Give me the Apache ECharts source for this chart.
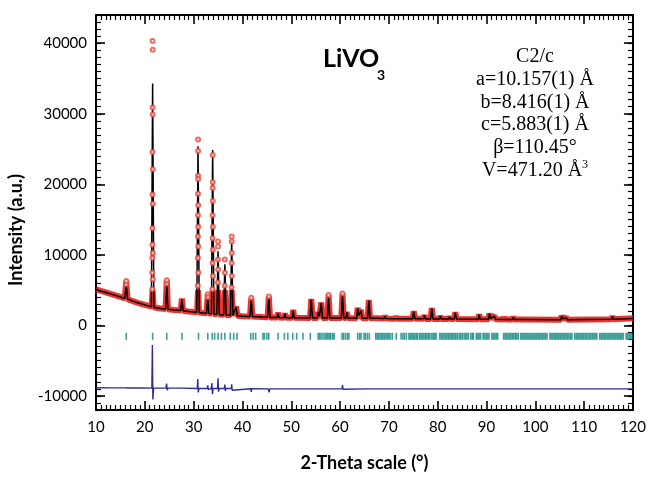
<!DOCTYPE html>
<html>
<head>
<meta charset="utf-8">
<script src="https://cdn.jsdelivr.net/npm/echarts@6.0.0/dist/echarts.min.js"></script>
<style>
  html, body { margin: 0; padding: 0; background: #fff; }
  #chart { width: 649px; height: 477px; }
</style>
</head>
<body>
<div id="chart"></div>
<script>
// 2-theta vs intensity

// calculated profile (black line)
var calcPoints = [
  [10,5050],[12,4650],[14,4250],[15.9,3820],[16.2,5900],[16.45,3760],[18,3300],[20,2900],
  [21.35,2620],[21.6,34300],[21.85,2560],[23,2420],[24.25,2300],[24.5,5700],[24.75,2280],
  [26,2170],[27.35,2110],[27.6,3700],[27.85,2080],[29,1950],[30.65,1850],[30.9,25400],[31.15,1820],
  [32,1730],[32.65,1700],[32.9,4200],[33.1,1700],[33.65,1640],[33.9,24850],[34.15,1620],
  [34.75,1560],[35.0,10500],[35.25,1540],[36.15,1480],[36.4,8650],[36.65,1460],
  [37.55,1420],[37.8,12050],[38.05,1400],[38.45,1370],[38.7,2600],[38.95,1360],[40,1300],
  [41.55,1250],[41.8,3700],[42.05,1240],[44,1170],[45.15,1140],[45.4,3950],[45.65,1130],
  [47.1,1100],[47.3,1720],[47.5,1100],[48.5,1090],[48.7,1650],[48.9,1090],[50.2,1070],[50.4,2100],[50.6,1070],
  [53.85,1060],[54.1,3650],[54.35,1060],[55.35,1055],[55.5,1850],[55.75,1300],[55.95,1300],[56.15,3150],[56.4,1060],
  [57.4,1060],[57.65,3950],[57.9,1050],[60.25,1040],[60.5,4200],[60.75,1040],[61.2,1040],[61.4,1850],[61.6,1040],
  [63.4,1020],[63.6,2400],[63.85,1400],[64.1,1400],[64.3,2100],[64.5,1020],[65.65,1010],[65.9,3500],[66.15,1000],
  [67.5,990],[67.7,1200],[67.9,985],[69,975],[69.2,1300],[69.4,970],[71.3,950],[71.5,1200],[71.7,945],
  [74.85,930],[75.1,1950],[75.35,930],[77.1,920],[77.3,1400],[77.5,915],[78.55,910],[78.8,2400],[79.05,905],
  [80.35,900],[80.55,1300],[80.75,900],[82.2,890],[82.4,1200],[82.6,890],[83.35,885],[83.6,1800],[83.85,885],
  [88.3,865],[88.5,1500],[88.7,865],[90.4,860],[90.6,1650],[90.85,1000],[91.6,1300],[91.85,855],
  [93.4,845],[93.6,1100],[93.8,845],[95.3,840],[95.5,1150],[95.7,835],[97.5,830],[97.7,1080],[97.9,825],
  [105.2,800],[105.4,1300],[105.7,900],[106.3,1100],[106.6,800],[115.6,860],[115.8,1250],[116.0,860],[120,980]
];

// observed data: the dense red band along the baseline
var obsBand = [
  [10,5100],[11,4880],[12,4680],[13,4470],[14,4260],[15,4030],[15.9,3830],[16.2,6300],[16.45,3760],
  [17,3560],[18,3320],[19,3100],[20,2910],[21.4,2650],[21.6,5000],[21.8,2570],[23,2430],
  [24.25,2310],[24.5,6400],[24.75,2280],[26,2180],[27.35,2110],[27.6,3800],[27.85,2080],[29,1960],
  [30.7,1860],[30.9,5000],[31.1,1820],[32,1740],[32.65,1700],[32.9,4400],[33.1,1700],[33.65,1650],
  [33.9,5000],[34.15,1620],[34.75,1560],[35.0,5000],[35.25,1540],[36.15,1490],[36.4,5000],[36.65,1460],
  [37.55,1420],[37.8,5000],[38.05,1400],[38.45,1370],[38.7,2700],[38.95,1360],[40,1300],
  [41.55,1250],[41.8,3800],[42.05,1240],[44,1170],[45.15,1140],[45.4,4100],[45.65,1130],
  [47.1,1100],[47.3,1800],[47.5,1100],[48.5,1090],[48.7,1700],[48.9,1090],[50.2,1070],[50.4,2200],[50.6,1070],
  [53.85,1060],[54.1,3750],[54.35,1060],[55.35,1055],[55.5,1900],[55.75,1300],[55.95,1300],[56.15,3250],[56.4,1060],
  [57.4,1060],[57.65,4300],[57.9,1050],[60.25,1040],[60.5,4500],[60.75,1040],[61.2,1040],[61.4,1900],[61.6,1040],
  [63.4,1020],[63.6,2500],[63.85,1400],[64.1,1400],[64.3,2200],[64.5,1020],[65.65,1010],[65.9,3600],[66.15,1000],
  [67.5,990],[67.7,1250],[67.9,985],[69,975],[69.2,1350],[69.4,970],[71.3,950],[71.5,1250],[71.7,945],
  [74.85,930],[75.1,2000],[75.35,930],[77.1,920],[77.3,1450],[77.5,915],[78.55,910],[78.8,2450],[79.05,905],
  [80.35,900],[80.55,1350],[80.75,900],[82.2,890],[82.4,1250],[82.6,890],[83.35,885],[83.6,1850],[83.85,885],
  [88.3,865],[88.5,1550],[88.7,865],[90.4,860],[90.6,1700],[90.85,1000],[91.6,1350],[91.85,855],
  [93.4,845],[93.6,1150],[93.8,845],[95.3,840],[95.5,1200],[95.7,835],[97.5,830],[97.7,1100],[97.9,825],
  [105.2,800],[105.4,1350],[105.7,900],[106.3,1150],[106.6,800],[115.6,860],[115.8,1300],[116.0,860],[120,1000]
];

// observed data: single circles on the strong peaks
var obsPeaks = [
  [16.17,5800],[16.2,6300],
  [21.52,5130],[21.53,7460],[21.54,9560],[21.55,11420],[21.56,13750],[21.57,18560],[21.58,24570],
  [21.59,30870],[21.6,40330],[21.61,39070],[21.62,29890],[21.63,22140],[21.64,17250],[21.65,10250],[21.66,6530],
  [24.47,5900],[24.5,6400],
  [30.86,5600],[30.87,9560],[30.88,12590],[30.89,15620],[30.9,18650],[30.9,21210],[30.91,26340],
  [30.92,24710],[30.93,20750],[30.94,17020],[30.95,13990],[30.96,11190],[30.97,7460],
  [32.9,4400],[32.92,4000],
  [33.86,5130],[33.87,8850],[33.88,12350],[33.89,15620],[33.9,19490],[33.91,24150],
  [33.92,20280],[33.93,17620],[33.94,13990],[33.95,10720],[33.96,6990],
  [34.98,6060],[34.99,9320],[35.0,11890],[35.01,11190],[35.02,7930],
  [36.38,5600],[36.4,9320],[36.42,7460],
  [37.78,5360],[37.79,8850],[37.8,12590],[37.81,11890],[37.82,10250],[37.83,6990],
  [41.8,3900],[45.4,4100],[57.65,4300],[60.5,4500]
];

// Bragg reflection positions (teal ticks)
var braggPos = [
  16.2, 21.6, 24.5, 27.6, 31.0, 32.9, 33.8, 34.3, 35.0, 35.7, 36.4, 37.5, 38.2, 38.9,
  41.7, 42.2, 42.7, 44.2, 44.5, 45.0, 45.4,
  47.3, 48.6, 49.3, 50.3, 51.1, 52.4, 53.9,
  55.5, 55.8, 56.1, 56.5, 56.9, 57.2, 57.5, 57.8, 58.1, 58.5, 58.8,
  60.4, 60.7, 61.1, 61.5, 61.8,
  63.6, 64.0, 64.3, 64.9, 65.2, 65.6, 66.0,
  67.3, 67.6, 67.9, 68.2, 68.5, 68.8, 69.1, 69.4, 69.7, 70.0, 70.3, 70.7,
  71.5, 72.5, 72.9, 73.2, 73.6,
  74.1, 74.4, 74.7, 75.0, 75.3, 75.6, 75.9, 76.3, 76.6, 76.9, 77.2, 77.5, 77.8, 78.1, 78.4, 78.8, 79.1, 79.4, 79.7,
  80.4, 80.7, 81.0, 81.3, 81.6, 81.9, 82.2, 82.5, 82.8, 83.1, 83.4, 83.7, 84.0, 84.4, 84.7, 85.0, 85.4, 85.7, 86.0, 86.3,
  86.8, 87.1, 87.3, 87.9, 88.2, 88.5, 88.8, 89.3, 89.6, 89.9, 90.2, 90.5, 91.1, 91.4, 91.7, 92.0, 92.3,
  93.5, 93.8, 94.1, 94.4, 94.7, 95.0, 95.3, 95.6, 95.9, 96.2, 96.5,
  97.0, 97.3, 97.6, 97.9, 98.2, 98.5, 98.8, 99.1, 99.4, 99.7, 100.0, 100.3, 100.6, 100.9, 101.2, 101.5, 101.8, 102.1, 102.4,
  103.0, 103.3, 103.6, 103.9, 104.2, 104.5, 104.8, 105.1, 105.4, 105.7, 106.0, 106.3, 106.6, 106.9, 107.2, 107.5,
  108.1, 108.4, 108.7, 109.0, 109.3, 109.6, 109.9, 110.2, 110.5, 110.8, 111.1, 111.4, 111.7, 112.0, 112.3, 112.6,
  113.2, 113.5, 113.8, 114.1, 114.4, 114.7, 115.0, 115.3, 115.6, 115.9, 116.2, 116.5, 116.8, 117.1, 117.4, 117.7, 118.0,
  118.6, 118.9, 119.2, 119.5, 119.8
];
var braggLevel = -1550;

// difference curve (blue)
var diffPoints = [
  [10,-8850],[13,-8870],[15.9,-8870],[16.1,-8600],[16.3,-9150],[16.5,-8880],[19.4,-8880],[19.6,-8700],[19.8,-8900],
  [21.45,-8900],[21.55,-2800],[21.65,-10500],[21.8,-8900],[24.35,-8900],[24.45,-8250],[24.6,-9200],[24.75,-8900],
  [27.5,-8900],[27.6,-8650],[27.7,-9100],[27.8,-8920],[30.75,-8950],[30.85,-7600],[30.95,-9500],[31.1,-8950],
  [32.8,-8950],[32.9,-8500],[33.0,-9100],[33.6,-8950],[33.75,-8200],[33.85,-9750],[34.0,-8950],
  [34.9,-8950],[35.0,-7500],[35.1,-9400],[35.25,-8950],[36.3,-8950],[36.4,-8400],[36.5,-9300],[36.6,-8950],
  [37.7,-8950],[37.8,-8350],[37.9,-9200],[38.0,-8950],[41.7,-8980],[41.8,-9450],[41.9,-8980],
  [45.3,-9000],[45.45,-9500],[45.6,-9000],[54.0,-9000],[54.1,-9200],[54.2,-9000],[57.6,-9000],[57.7,-8800],[57.8,-9000],
  [60.4,-9000],[60.5,-8450],[60.6,-9050],[65.8,-9000],[65.9,-9200],[66.0,-9000],[78.7,-9000],[78.8,-8850],[78.9,-9050],
  [90.5,-9000],[90.6,-8900],[90.7,-9000],[105.3,-9000],[105.4,-8850],[105.5,-9000],[120,-9000]
];

// axes
var xMin = 10, xMax = 120, xStep = 10;
var yMin = -12000, yMax = 44000, yMinorStep = 1000;

var chart = echarts.init(document.getElementById('chart'));

function plainNum(v) { return String(v); }

function xAxisCfg(pos, showLabel) {
  return {
    type: 'value', position: pos, min: xMin, max: xMax, interval: xStep,
    axisLine: { show: true, onZero: false, lineStyle: { color: '#000', width: 2 } },
    axisTick: { show: true, inside: true, length: 9, lineStyle: { color: '#000', width: 1.6 } },
    minorTick: { show: true, splitNumber: 10, length: 5, lineStyle: { color: '#000', width: 1.2 } },
    axisLabel: { show: showLabel, margin: 10, formatter: plainNum, color: '#000', fontSize: 15, fontFamily: 'Lato' },
    splitLine: { show: false }
  };
}
// short ticks every 1000
function yMinorCfg(pos) {
  return {
    type: 'value', position: pos, min: yMin, max: yMax, interval: yMinorStep,
    axisLine: { show: true, onZero: false, lineStyle: { color: '#000', width: 2 } },
    axisTick: { show: true, inside: true, length: 5, lineStyle: { color: '#000', width: 1.2 } },
    axisLabel: { show: false },
    splitLine: { show: false }
  };
}
// long ticks and labels every 10000 (library picks the step)
function yMajorCfg(pos, showLabel) {
  return {
    type: 'value', position: pos, min: yMin, max: yMax, splitNumber: 5,
    axisLine: { show: false, onZero: false },
    axisTick: { show: true, inside: true, length: 9, lineStyle: { color: '#000', width: 1.6 } },
    axisLabel: { show: showLabel, showMinLabel: false, showMaxLabel: false, margin: 9, formatter: plainNum,
                 color: '#000', fontSize: 15, fontFamily: 'Lato' },
    splitLine: { show: false }
  };
}

var xBottom = xAxisCfg('bottom', true);
xBottom.name = '2-Theta scale (°)';
xBottom.nameLocation = 'middle';
xBottom.nameGap = 44;
xBottom.nameTextStyle = { color: '#000', fontSize: 18, fontWeight: 'bold', fontFamily: 'Lato' };

var option = {
  animation: false,
  grid: { left: 96, right: 15, top: 15, bottom: 62 },
  xAxis: [xBottom, xAxisCfg('top', false)],
  yAxis: [yMajorCfg('left', true), yMinorCfg('left'), yMinorCfg('right'), yMajorCfg('right', false)],
  series: [
    {
      name: 'obs', type: 'line', data: obsBand, showSymbol: false, z: 1,
      lineStyle: { color: '#e8201a', width: 6, opacity: 0.9 }
    },
    {
      name: 'obs peaks', type: 'scatter', data: obsPeaks, symbol: 'emptyCircle', symbolSize: 4, z: 4,
      itemStyle: { color: '#e8483f', borderColor: '#e8483f', borderWidth: 1 }
    },
    {
      name: 'Bragg', type: 'scatter', data: braggPos.map(function (p) { return [p, braggLevel]; }),
      symbol: 'rect', symbolSize: [1.6, 7], z: 2,
      itemStyle: { color: '#0b877f' }
    },
    {
      name: 'calc', type: 'line', data: calcPoints, showSymbol: false, z: 3,
      lineStyle: { color: '#000', width: 1.5 }
    },
    {
      name: 'diff', type: 'line', data: diffPoints, showSymbol: false, z: 3,
      lineStyle: { color: '#2c2f8f', width: 1.4 }
    }
  ],
  graphic: [
    {
      type: 'text', x: 16, y: 230, rotation: Math.PI / 2,
      style: { text: 'Intensity (a.u.)', fill: '#000', fontSize: 18, fontWeight: 'bold', fontFamily: 'Lato',
               align: 'center', verticalAlign: 'middle' }
    },
    {
      type: 'text', x: 323, y: 59,
      style: { text: 'LiVO', fill: '#000', fontSize: 25, fontWeight: 'bold', fontFamily: 'Lato',
               align: 'left', verticalAlign: 'middle' }
    },
    {
      type: 'text', x: 377, y: 75,
      style: { text: '3', fill: '#000', fontSize: 14, fontWeight: 'bold', fontFamily: 'Lato',
               align: 'left', verticalAlign: 'middle' }
    },
    {
      type: 'text', x: 535, y: 45.3,
      style: {
        text: 'C2/c\na=10.157(1) Å\nb=8.416(1) Å\nc=5.883(1) Å\nβ=110.45°\nV=471.20 Å{s|3}',
        fill: '#000', fontSize: 20, fontFamily: 'Liberation Serif', lineHeight: 22.8,
        align: 'center', verticalAlign: 'top',
        rich: { s: { fontSize: 12, lineHeight: 12, verticalAlign: 'top', fontFamily: 'Liberation Serif', fill: '#000' } }
      }
    }
  ]
};

chart.setOption(option);
</script>
</body>
</html>
